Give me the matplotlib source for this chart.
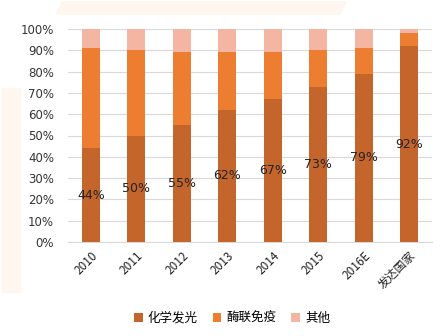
import numpy as np
import matplotlib.pyplot as plt
from matplotlib.patches import Polygon, Rectangle

plt.rcParams['font.family'] = ['Noto Sans CJK SC', 'DejaVu Sans']

years = ["2010", "2011", "2012", "2013", "2014", "2015", "2016E", "发达国家"]
chemi = [44, 50, 55, 62, 67, 73, 79, 92]
elisa = [47, 40, 34, 27, 22, 17, 12, 6]
other = [9, 10, 11, 11, 11, 10, 9, 2]
series_names = ["化学发光", "酶联免疫", "其他"]

c_chemi = "#C4662B"
c_elisa = "#ED7D31"
c_other = "#F4B6A2"
band = "#FEF6EF"

fig = plt.figure(figsize=(4.48, 3.36), dpi=100)

# light decorative bands behind the chart
fig.patches.append(Polygon([[56/448, 1-14/336], [62/448, 1-2/336], [346/448, 1-2/336],
                            [340/448, 1-14/336]], closed=True,
                           transform=fig.transFigure, color=band, zorder=0))
fig.patches.append(Rectangle((2/448, 1-292/336), 18/448, 204/336,
                             transform=fig.transFigure, color=band, zorder=0))

ax = fig.add_axes([68/448, 1-242/336, 364/448, 213/336])
ax.patch.set_alpha(0)

x = np.arange(len(years))
w = 0.4
chemi_a = np.array(chemi)
elisa_a = np.array(elisa)
ax.bar(x, chemi_a, w, color=c_chemi, label=series_names[0], zorder=3)
ax.bar(x, elisa_a, w, bottom=chemi_a, color=c_elisa, label=series_names[1], zorder=3)
ax.bar(x, other, w, bottom=chemi_a + elisa_a, color=c_other, label=series_names[2], zorder=3)

for xi, v in zip(x, chemi):
    ax.text(xi, v / 2, f"{v}%", ha="center", va="center", fontsize=9,
            color="#222222", family="DejaVu Sans", zorder=4)

ax.set_xlim(-0.5, len(years) - 0.5)
ax.set_ylim(0, 100)
ax.set_yticks(range(0, 101, 10))
ax.set_yticklabels([f"{t}%" for t in range(0, 101, 10)], fontsize=8.5, color="#333333",
                   family="DejaVu Sans")
ax.set_xticks(x)
ax.set_xticklabels(years, rotation=45, ha="right", rotation_mode="anchor", fontsize=8.5,
                   color="#222222")
ax.tick_params(axis="y", length=0, pad=10)
ax.tick_params(axis="x", length=0, pad=5)
ax.grid(axis="y", color="#D9D9D9", linewidth=0.8, zorder=0)
for s in ax.spines.values():
    s.set_visible(False)
ax.spines["bottom"].set_visible(True)
ax.spines["bottom"].set_color("#D9D9D9")

fig.legend(loc="center", bbox_to_anchor=(232/448, 1-318/336), ncol=3, frameon=False,
           fontsize=9, handlelength=0.7, handleheight=0.7, handletextpad=0.4,
           columnspacing=1.2)

fig.savefig("out.png", dpi=100, facecolor="white")
